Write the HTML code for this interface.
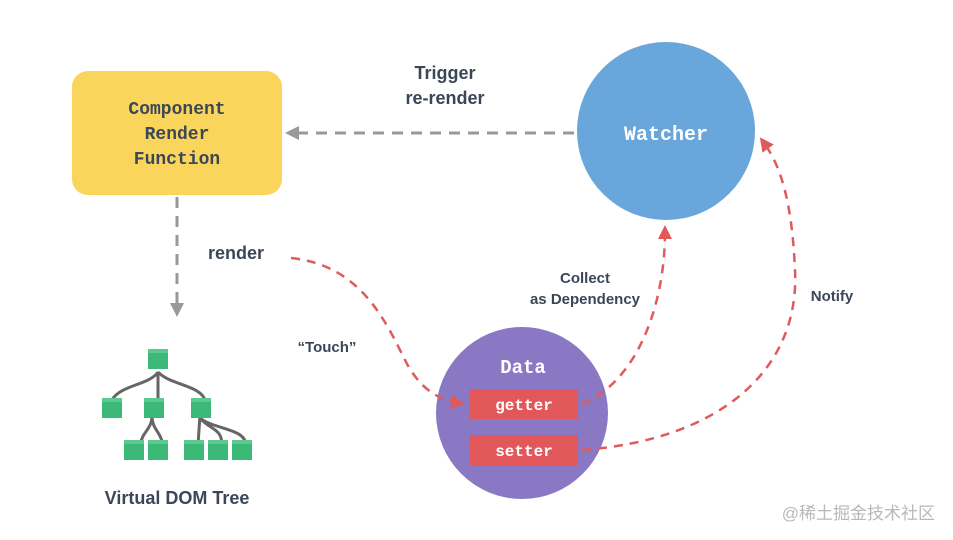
<!DOCTYPE html>
<html><head><meta charset="utf-8"><style>
html,body{margin:0;padding:0;background:#fff;}
svg{display:block}
.m{font-family:"Liberation Mono",monospace;font-weight:bold;}
.s{font-family:"Liberation Sans",sans-serif;font-weight:bold;fill:#3b4758;}
</style></head><body>
<svg width="953" height="540" viewBox="0 0 953 540" xmlns="http://www.w3.org/2000/svg">
<defs>
<marker id="ag" markerWidth="14" markerHeight="14" refX="7" refY="7" orient="auto" markerUnits="userSpaceOnUse"><path d="M0,0 L14,7 L0,14 Z" fill="#999"/></marker>
<marker id="ar" markerWidth="14" markerHeight="14" refX="7" refY="7" orient="auto" markerUnits="userSpaceOnUse"><path d="M0,0 L14,7 L0,14 Z" fill="#e05a5a"/></marker>
</defs>
<rect x="72" y="71" width="210" height="124" rx="16" fill="#f9d65b"/>
<text class="m" x="177" y="114" text-anchor="middle" font-size="18" fill="#3b4758">Component</text>
<text class="m" x="177" y="139" text-anchor="middle" font-size="18" fill="#3b4758">Render</text>
<text class="m" x="177" y="164" text-anchor="middle" font-size="18" fill="#3b4758">Function</text>

<circle cx="666" cy="131" r="89" fill="#68a6dc"/>
<text class="m" x="666" y="140" text-anchor="middle" font-size="20" fill="#fff">Watcher</text>

<line x1="574" y1="133" x2="292" y2="133" stroke="#999" stroke-width="3" stroke-dasharray="11,8" marker-end="url(#ag)"/>
<line x1="177" y1="197" x2="177" y2="310" stroke="#999" stroke-width="3" stroke-dasharray="11,8" marker-end="url(#ag)"/>

<text class="s" x="445" y="79" text-anchor="middle" font-size="18">Trigger</text>
<text class="s" x="445" y="104" text-anchor="middle" font-size="18">re-render</text>
<text class="s" x="236" y="259" text-anchor="middle" font-size="18">render</text>
<text class="s" x="327" y="352" text-anchor="middle" font-size="15">“Touch”</text>
<text class="s" x="585" y="283" text-anchor="middle" font-size="15">Collect</text>
<text class="s" x="585" y="304" text-anchor="middle" font-size="15">as Dependency</text>
<text class="s" x="832" y="301" text-anchor="middle" font-size="15">Notify</text>

<circle cx="522" cy="413" r="86" fill="#8a78c5"/>
<text class="m" x="523" y="373" text-anchor="middle" font-size="19" fill="#fff">Data</text>
<rect x="470" y="389" width="108" height="30" fill="#e2585a"/>
<text class="m" x="524" y="410" text-anchor="middle" font-size="16" fill="#fff">getter</text>
<rect x="470" y="435" width="108" height="31" fill="#e2585a"/>
<text class="m" x="524" y="456" text-anchor="middle" font-size="16" fill="#fff">setter</text>

<g fill="none" stroke="#e05a5a" stroke-width="2.5" stroke-dasharray="9,7">
<path d="M291,258 C360,265 385,320 405,360 C420,390 440,400 458,403" marker-end="url(#ar)"/>
<path d="M582,404 C640,380 665,300 665,232" marker-end="url(#ar)"/>
<path d="M582,450 C720,440 800,370 795,270 C792,200 780,165 764,143" marker-end="url(#ar)"/>
</g>

<g stroke="#666" stroke-width="3" fill="none">
<path d="M158,372 C150,385 120,385 112,400"/>
<path d="M158,372 L158,400"/>
<path d="M158,372 C170,385 200,385 205,400"/>
<path d="M152,415 C152,430 143,430 140,445"/>
<path d="M152,415 C152,430 160,430 163,445"/>
<path d="M200,415 L198,445"/>
<path d="M200,418 C210,430 222,428 222,445"/>
<path d="M200,418 C215,430 245,428 246,445"/>
</g>
<g fill="#3cb878">
<rect x="148" y="349" width="20" height="20"/>
<rect x="102" y="398" width="20" height="20"/>
<rect x="144" y="398" width="20" height="20"/>
<rect x="191" y="398" width="20" height="20"/>
<rect x="124" y="440" width="20" height="20"/>
<rect x="148" y="440" width="20" height="20"/>
<rect x="184" y="440" width="20" height="20"/>
<rect x="208" y="440" width="20" height="20"/>
<rect x="232" y="440" width="20" height="20"/>
</g>
<g fill="#5cc98f">
<rect x="148" y="349" width="20" height="4"/>
<rect x="102" y="398" width="20" height="4"/>
<rect x="144" y="398" width="20" height="4"/>
<rect x="191" y="398" width="20" height="4"/>
<rect x="124" y="440" width="20" height="4"/>
<rect x="148" y="440" width="20" height="4"/>
<rect x="184" y="440" width="20" height="4"/>
<rect x="208" y="440" width="20" height="4"/>
<rect x="232" y="440" width="20" height="4"/>
</g>
<text class="s" x="177" y="504" text-anchor="middle" font-size="18">Virtual DOM Tree</text>
<text x="935" y="519" text-anchor="end" font-size="17" fill="#b8b8b8" font-family="'Liberation Sans','Noto Sans CJK SC',sans-serif">@稀土掘金技术社区</text>
</svg>
</body></html>
